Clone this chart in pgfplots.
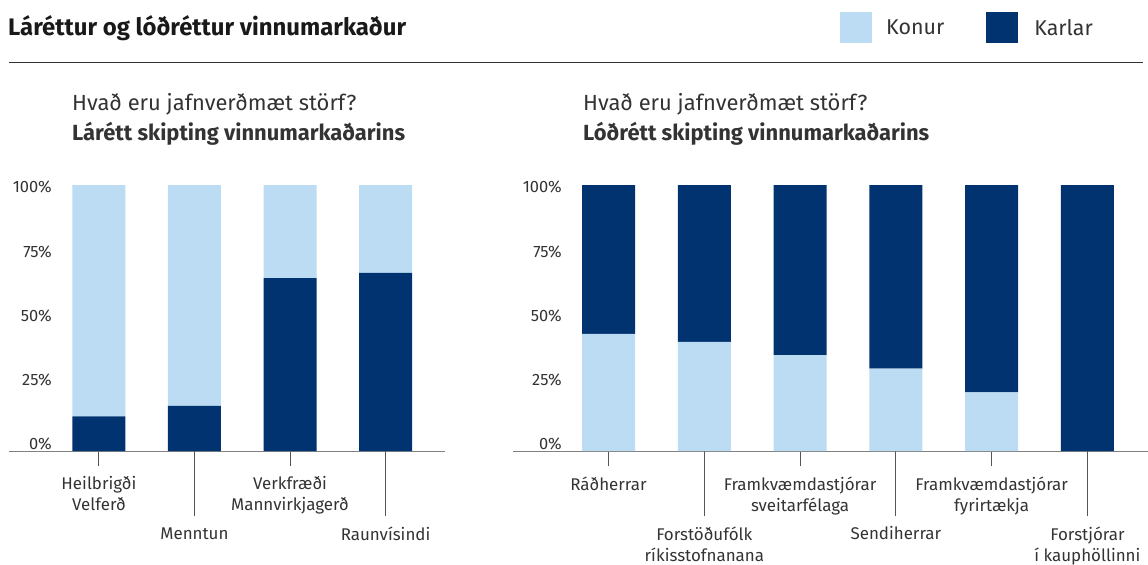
\documentclass[border=0pt]{standalone}
\usepackage{pgfplots}
\pgfplotsset{compat=1.18}
\usepackage{fontspec}
\setmainfont{Fira Sans}
\definecolor{konur}{HTML}{BBDCF3}
\definecolor{karlar}{HTML}{003370}
\definecolor{textgray}{HTML}{333333}
\definecolor{axisgray}{HTML}{808080}
\definecolor{tickgray}{HTML}{555555}
\definecolor{rulegray}{HTML}{333333}
\newcommand{\s}{\rule{0pt}{13bp}}

\pgfplotsset{
  panel/.style={
    scale only axis, height=266bp,
    ymin=0, ymax=100,
    axis x line*=bottom, axis y line*=left,
    separate axis lines,
    x axis line style={color=axisgray, line width=1bp, -},
    y axis line style={draw=none},
    ytick={2.6,26.7,50.75,74.9,99.1},
    yticklabels={0\%,25\%,50\%,75\%,100\%},
    ytick style={draw=none},
    yticklabel style={anchor=east, inner sep=0pt, font=\fontsize{16.5}{16.5}\selectfont, text=textgray},
    major tick length=15bp, tick align=outside,
    xtick style={color=tickgray, line width=1bp},
    xticklabel style={align=center, anchor=north, inner sep=0pt, yshift=-10.5bp,
      font=\fontsize{17}{21}\selectfont, text=textgray},
    extra x tick style={major tick length=65bp},
    ybar stacked, bar width=53bp,
    clip=false,
    legend image code/.code={\fill[##1] (0bp,-15bp) rectangle (32bp,16bp);},
  }
}

\begin{document}
\begin{tikzpicture}
\path[use as bounding box] (0,0) rectangle (1148bp,-565bp);

% Title and rule
\node[anchor=base west, inner sep=0pt, text=black!90] at (8bp,-35bp) {\fontsize{24}{28}\selectfont\bfseries Láréttur og lóðréttur vinnumarkaður};
\draw[color=rulegray, line width=1.3bp] (8.5bp,-62.3bp) -- (1143bp,-62.3bp);

% Subtitles
\node[anchor=base west, inner sep=0pt, text=textgray] at (72bp,-110.5bp) {\fontsize{22}{26}\selectfont Hvað eru jafnverðmæt störf?};
\node[anchor=base west, inner sep=0pt, text=textgray] at (72bp,-140.5bp) {\fontsize{22}{26}\selectfont\bfseries Lárétt skipting vinnumarkaðarins};
\node[anchor=base west, inner sep=0pt, text=textgray] at (583bp,-110.5bp) {\fontsize{22}{26}\selectfont Hvað eru jafnverðmæt störf?};
\node[anchor=base west, inner sep=0pt, text=textgray] at (583bp,-140.5bp) {\fontsize{22}{26}\selectfont\bfseries Lóðrétt skipting vinnumarkaðarins};

% Left panel
\begin{axis}[panel,
  width=436.5bp, at={(8.5bp,-451bp)}, anchor=south west,
  xmin=-0.946, xmax=3.622,
  yticklabel style={xshift=58.5bp},
  xtick={0,2}, xticklabels={{\s Heilbrigði\\Velferð},{\s Verkfræði\\Mannvirkjagerð}},
  extra x ticks={1,3}, extra x tick labels={\s Menntun,\s Raunvísindi},
]
\addplot[fill=karlar, draw=none] coordinates {(0,13) (1,17) (2,65) (3,67)};
\addplot[fill=konur, draw=none] coordinates {(0,87) (1,83) (2,35) (3,33)};
\end{axis}

% Right panel
\begin{axis}[panel,
  width=635bp, at={(513bp,-451bp)}, anchor=south west,
  xmin=-0.997, xmax=5.632,
  yticklabel style={xshift=64bp},
  xtick={0,2,4}, xticklabels={\s Ráðherrar,{\s Framkvæmdastjórar\\sveitarfélaga},{\s Framkvæmdastjórar\\fyrirtækja}},
  extra x ticks={1,3,5}, extra x tick labels={{\s Forstöðufólk\\ríkisstofnanana},\s Sendiherrar,{\s Forstjórar\\í kauphöllinni}},
  legend columns=2,
  legend style={at={(0.515,1.592)}, anchor=west, draw=none, inner sep=0pt,
    font=\fontsize{21.5}{24}\selectfont, text=textgray,
    /tikz/every odd column/.append style={column sep=0bp},
    /tikz/every even column/.append style={column sep=42bp},
    nodes={inner sep=0pt, text=textgray}},
]
\addplot[fill=konur, draw=none] coordinates {(0,44) (1,41) (2,36) (3,31) (4,22) (5,0)};
\addplot[fill=karlar, draw=none] coordinates {(0,56) (1,59) (2,64) (3,69) (4,78) (5,100)};
\legend{\hspace{14bp}Konur,\hspace{16bp}Karlar}
\end{axis}
\end{tikzpicture}
\end{document}
